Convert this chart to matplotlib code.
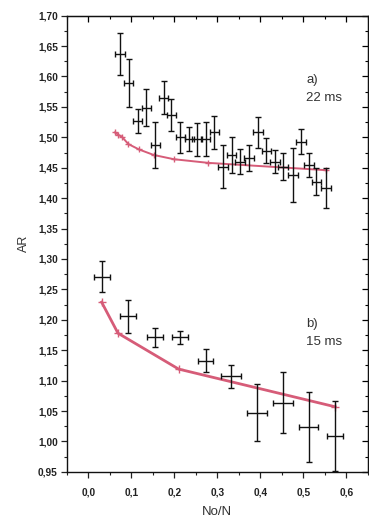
import matplotlib
matplotlib.use("Agg")
import matplotlib.pyplot as plt
from matplotlib.ticker import MultipleLocator, FuncFormatter

# ---- data: series a) 22 ms (measured) ----
a_x = [0.074, 0.094, 0.115, 0.135, 0.156, 0.175, 0.193, 0.214, 0.235, 0.253,
       0.273, 0.293, 0.313, 0.333, 0.353, 0.374, 0.395, 0.414, 0.434, 0.453,
       0.476, 0.495, 0.513, 0.530, 0.553]
a_y = [1.637, 1.589, 1.527, 1.549, 1.487, 1.565, 1.537, 1.500, 1.497, 1.497,
       1.497, 1.508, 1.452, 1.471, 1.460, 1.466, 1.508, 1.478, 1.460, 1.452,
       1.438, 1.493, 1.455, 1.427, 1.416]
a_yerr = [0.034, 0.039, 0.020, 0.030, 0.038, 0.027, 0.026, 0.025, 0.020, 0.027,
          0.028, 0.027, 0.035, 0.029, 0.021, 0.021, 0.026, 0.021, 0.019, 0.022,
          0.044, 0.020, 0.020, 0.022, 0.033]
a_xerr = [0.011] * 25

# ---- series a) model curve ----
a_fit_x = [0.062, 0.070, 0.078, 0.093, 0.118, 0.152, 0.199, 0.279, 0.553]
a_fit_y = [1.508, 1.504, 1.501, 1.489, 1.480, 1.471, 1.464, 1.458, 1.446]

# ---- data: series b) 15 ms (measured) ----
b_x = [0.032, 0.093, 0.155, 0.213, 0.273, 0.332, 0.393, 0.453, 0.513, 0.574]
b_y = [1.271, 1.206, 1.171, 1.171, 1.133, 1.107, 1.047, 1.064, 1.024, 1.009]
b_yerr = [0.026, 0.027, 0.015, 0.011, 0.019, 0.019, 0.047, 0.050, 0.058, 0.058]
b_xerr = [0.019, 0.019, 0.018, 0.019, 0.018, 0.024, 0.023, 0.023, 0.022, 0.019]

# ---- series b) model curve ----
b_fit_x = [0.031, 0.069, 0.210, 0.574]
b_fit_y = [1.229, 1.178, 1.119, 1.057]

x_ticks = [0.0, 0.1, 0.2, 0.3, 0.4, 0.5, 0.6]
y_ticks = [0.95, 1.00, 1.05, 1.10, 1.15, 1.20, 1.25, 1.30, 1.35, 1.40,
           1.45, 1.50, 1.55, 1.60, 1.65, 1.70]

plt.rcParams['font.family'] = ['Liberation Sans', 'DejaVu Sans']

fig = plt.figure(figsize=(3.69, 5.22), dpi=100)
ax = fig.add_axes([0.181, 0.096, 0.816, 0.874])

red = '#d65c78'
ax.plot(a_fit_x, a_fit_y, color=red, lw=1.4, marker='+', ms=4.5, mew=1.0, zorder=2)
ax.plot(b_fit_x, b_fit_y, color=red, lw=2.0, marker='+', ms=5.5, mew=1.0, zorder=2)

ax.errorbar(a_x, a_y, yerr=a_yerr, xerr=a_xerr, fmt='none', ecolor='#111111',
            elinewidth=1.0, capsize=2.2, capthick=1.0, zorder=3)
ax.errorbar(b_x, b_y, yerr=b_yerr, xerr=b_xerr, fmt='none', ecolor='#111111',
            elinewidth=1.0, capsize=2.2, capthick=1.0, zorder=3)

ax.set_xlim(-0.05, 0.65)
ax.set_ylim(0.95, 1.70)
ax.set_xticks(x_ticks)
ax.set_yticks(y_ticks)
ax.xaxis.set_minor_locator(MultipleLocator(0.05))
ax.yaxis.set_minor_locator(MultipleLocator(0.025))

ax.xaxis.set_major_formatter(FuncFormatter(lambda v, p: f"{v:.1f}".replace('.', ',')))
ax.yaxis.set_major_formatter(FuncFormatter(lambda v, p: f"{v:.2f}".replace('.', ',')))

ax.tick_params(axis='both', which='major', direction='out', length=4.5, width=0.9,
               labelsize=7.3, colors='#222222')
ax.tick_params(axis='both', which='minor', direction='out', length=2.5, width=0.8,
               colors='#222222')
for lab in ax.get_xticklabels() + ax.get_yticklabels():
    lab.set_fontweight('bold')
ax.tick_params(axis='x', pad=7)
ax.tick_params(axis='y', pad=2)

# mirrored ticks pointing inward on top/right
axt = ax.secondary_xaxis('top')
axt.set_xticks(x_ticks)
axt.xaxis.set_minor_locator(MultipleLocator(0.05))
axt.tick_params(which='major', direction='in', length=4.5, width=0.9, labeltop=False)
axt.tick_params(which='minor', direction='in', length=2.5, width=0.8)
axr = ax.secondary_yaxis('right')
axr.set_yticks(y_ticks)
axr.yaxis.set_minor_locator(MultipleLocator(0.025))
axr.tick_params(which='major', direction='in', length=4.5, width=0.9, labelright=False)
axr.tick_params(which='minor', direction='in', length=2.5, width=0.8)

for s in ax.spines.values():
    s.set_linewidth(1.0)
    s.set_color('#111111')

ax.set_xlabel('No/N', fontsize=9.5, color='#333333', labelpad=6)
ax.set_ylabel('AR', fontsize=9, color='#333333', labelpad=6)

ax.text(0.507, 1.589, 'a)', fontsize=9.5, color='#333333')
ax.text(0.507, 1.560, '22 ms', fontsize=9.5, color='#333333')
ax.text(0.507, 1.188, 'b)', fontsize=9.5, color='#333333')
ax.text(0.507, 1.159, '15 ms', fontsize=9.5, color='#333333')

fig.savefig('out.png', dpi=100)
